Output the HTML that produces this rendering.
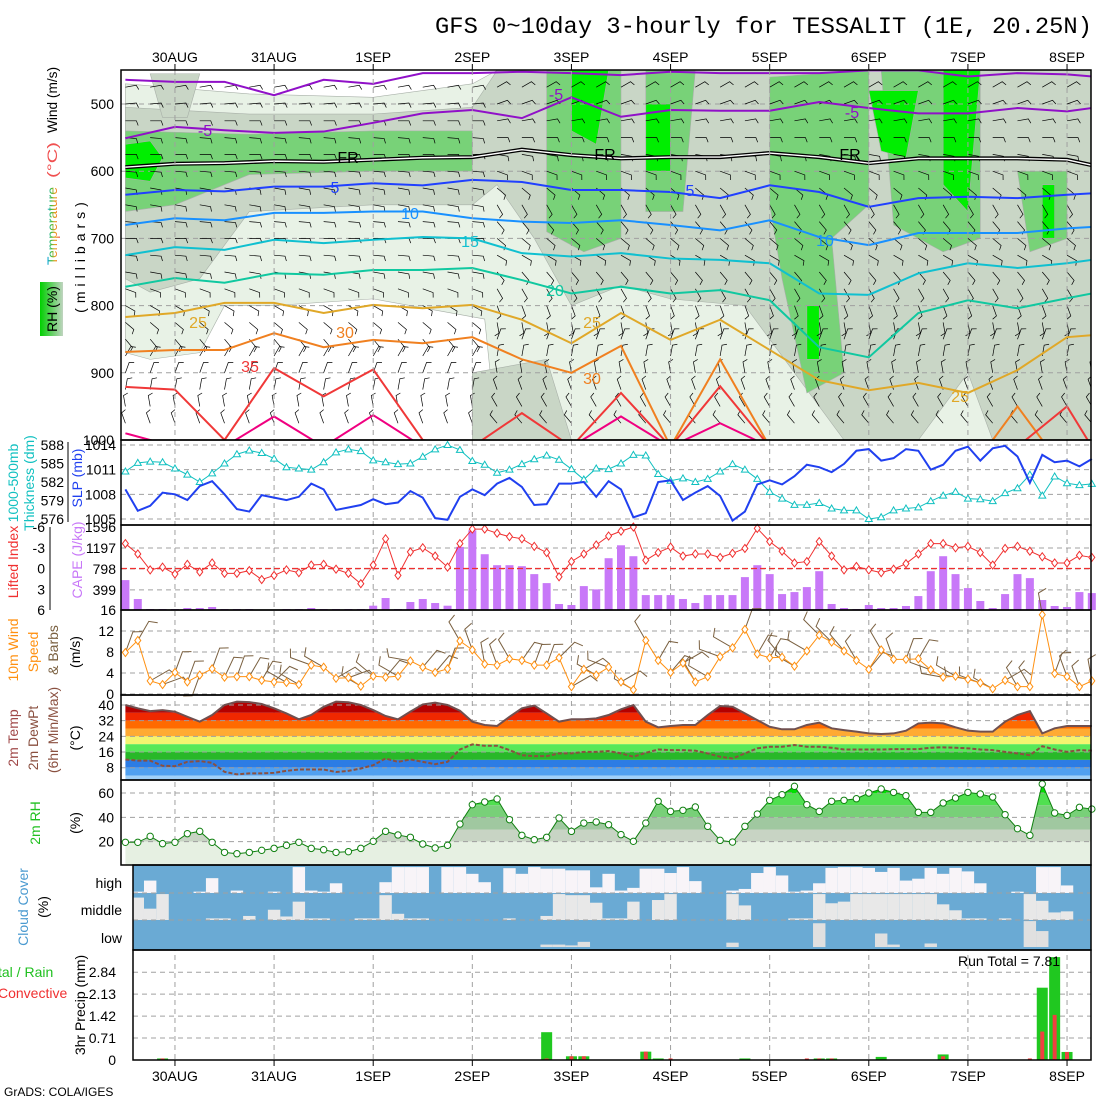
<!DOCTYPE html>
<html><head><meta charset="utf-8"><style>
html,body{margin:0;padding:0;background:#fff}
svg{display:block;font-family:"Liberation Sans",sans-serif}
</style></head><body>
<svg id="chart" width="1100" height="1100" viewBox="0 0 1100 1100" xmlns="http://www.w3.org/2000/svg">
<defs>
<linearGradient id="tempGrad" x1="0" y1="1" x2="0" y2="0">
<stop offset="0" stop-color="#f04040"/><stop offset="0.3" stop-color="#f0a020"/><stop offset="0.55" stop-color="#40c040"/><stop offset="0.8" stop-color="#00a0f0"/><stop offset="1" stop-color="#2040f0"/></linearGradient>
<linearGradient id="rhGrad" x1="0" y1="0" x2="1" y2="0">
<stop offset="0" stop-color="#00d000"/><stop offset="0.5" stop-color="#60d060"/><stop offset="1" stop-color="#c0d4c0"/></linearGradient>
</defs>
</svg>
<script>
// ---------- data ----------
const dayLabels = ["30AUG","31AUG","1SEP","2SEP","3SEP","4SEP","5SEP","6SEP","7SEP","8SEP"];
const pressureTicks = [500,600,700,800,900,1000];
const thickTicks = [588,585,582,579,576];
const slpTicks = [1014,1011,1008,1005];
const liTicks = [-6,-3,0,3,6];
const capeTicks = [1596,1197,798,399,16];
const windTicks = [16,12,8,4,0];
const tempTicks = [40,32,24,16,8];
const rhTicks = [60,40,20];
const precipTicks = [2.84,2.13,1.42,0.71,0];

const thickness = [583.7,585.1,585.3,585.2,584.2,583.2,582.0,583.4,585.0,586.5,587.1,586.7,585.8,584.4,584.2,584.0,585.2,586.8,587.3,587.0,585.5,585.2,584.9,585.0,586.1,587.3,588.0,587.2,585.4,584.8,583.5,584.0,584.9,585.7,586.3,585.6,584.1,582.4,584.2,584.1,585.0,586.4,586.3,583.3,582.2,582.6,582.0,582.5,583.7,584.9,584.0,582.5,580.4,579.3,578.3,578.3,578.6,577.7,577.4,577.4,576.0,576.3,577.4,577.7,577.9,578.9,579.8,580.4,579.3,579.2,578.9,580.2,581.0,583.2,579.8,582.9,581.8,581.5,581.7];
const slp = [1008.6,1006.0,1006.6,1008.2,1008.0,1007.3,1009.0,1009.6,1008.0,1006.2,1005.9,1007.9,1007.6,1007.3,1007.7,1009.3,1008.6,1006.1,1006.4,1006.7,1007.4,1006.8,1007.0,1008.4,1007.6,1005.1,1004.9,1007.7,1008.6,1007.9,1009.3,1010.0,1008.9,1006.7,1006.8,1009.3,1009.3,1009.5,1007.7,1009.6,1008.6,1005.2,1005.7,1009.5,1009.7,1007.3,1008.2,1009.0,1007.8,1004.8,1005.9,1009.2,1009.7,1009.2,1010.2,1011.6,1011.3,1010.7,1011.7,1013.3,1013.5,1012.1,1012.4,1013.5,1013.3,1011.0,1011.6,1013.3,1013.8,1012.1,1013.6,1013.9,1012.6,1009.4,1012.8,1011.9,1012.1,1011.4,1012.3];
const cape = [585,225,35,35,35,54,54,73,35,35,35,16,16,35,35,54,35,35,35,35,98,244,35,168,225,149,98,1217,1533,1078,869,869,850,699,528,130,111,471,408,1002,1248,1040,300,300,300,225,149,300,300,300,642,869,699,319,357,452,755,130,54,35,111,54,54,92,281,755,1040,699,433,187,54,319,699,623,206,92,73,357,338];
const liftedIndex = [-3.6,-2.1,0.2,-0.2,0.8,-0.6,0.5,-0.8,0.7,0.7,0.3,1.6,1.0,0.2,0.6,-0.5,-0.6,0.1,0.7,2.2,-0.5,-4.3,1.0,-2.4,-3.0,-1.8,-0.2,-3.6,-5.7,-5.7,-5.1,-4.6,-4.3,-3.2,-2.3,1.2,-1.0,-2.1,-3.4,-4.7,-5.4,-6.0,-1.2,-2.3,-3.1,-1.8,-2.1,-2.1,-1.6,-2.2,-2.9,-5.8,-3.9,-2.5,-0.8,-1.0,-3.9,-1.8,0.2,-0.3,0.2,0.6,0.1,-0.7,-2.1,-3.6,-3.6,-3.0,-3.2,-2.3,-0.5,-2.9,-3.2,-2.5,-1.7,-0.8,-0.8,-1.9,-1.6];
const windSpeed = [7.9,10.2,2.5,1.8,4.1,2.3,3.6,4.8,3.2,3.3,3.3,2.6,2.3,2.2,1.8,5.5,5.1,3.0,3.1,1.5,3.4,3.2,3.4,6.3,5.1,4.1,4.8,10.1,8.4,5.7,5.5,6.7,6.4,5.5,5.5,6.9,1.4,4.7,3.6,5.1,2.3,0.8,10.2,6.4,4.1,5.9,2.3,3.3,7.1,8.8,12.3,7.6,6.9,7.0,5.3,8.2,11.2,9.9,8.2,6.4,4.7,8.4,6.6,6.6,6.7,4.6,3.2,3.4,2.8,2.1,1.0,2.6,1.4,1.4,15.1,3.9,3.3,1.4,2.5];
const windDir = [20,30,60,70,20,20,200,20,25,20,30,30,45,300,300,290,300,60,70,300,310,40,300,280,40,40,20,330,340,350,340,330,35,20,20,45,60,60,300,290,60,300,330,30,40,60,330,300,290,300,20,30,30,320,300,300,315,315,320,330,40,330,340,20,30,290,280,300,280,290,300,60,330,330,350,20,340,340,350];
const temp2m = [40.0,38.3,36.9,37.4,36.6,34.0,31.5,34.9,40.0,41.7,41.5,40.5,38.3,35.7,32.7,34.9,39.1,41.7,41.4,40.0,37.4,34.4,32.7,36.6,40.3,41.2,40.0,37.1,31.5,29.8,29.3,34.0,38.3,39.7,35.7,31.5,32.7,32.7,33.2,34.9,37.8,40.0,31.5,28.6,29.3,29.8,29.8,34.9,39.5,39.1,35.7,32.3,28.9,27.6,27.6,29.8,31.0,28.1,27.2,26.4,25.5,25.2,25.5,26.9,30.6,31.0,30.6,28.6,26.9,26.4,26.4,31.5,34.9,36.9,25.5,28.1,29.3,29.3,29.3];
const dewpt2m = [12.2,11.6,11.6,9.0,8.8,11.0,11.4,10.5,5.9,4.6,5.1,5.1,5.4,6.4,7.1,7.1,7.1,5.8,6.4,7.6,9.3,12.7,11.0,12.2,11.0,9.8,11.0,17.3,19.9,19.2,19.2,17.0,14.4,13.9,13.9,15.3,15.3,16.1,16.1,16.5,15.3,13.6,15.6,17.3,17.0,17.0,16.7,15.3,13.6,12.7,15.3,17.9,18.7,18.7,19.6,18.7,18.7,18.2,17.3,17.3,17.3,17.3,17.5,17.5,17.5,18.2,18.4,18.2,17.9,17.3,17.0,16.1,15.3,14.4,19.0,17.3,16.1,17.0,16.7];
const rh2m = [19.5,19.5,24.4,18.4,19.5,26.6,28.5,19.5,11.2,10.1,11.2,12.9,14.5,17.0,19.5,14.5,13.4,11.2,11.8,14.5,20.3,28.5,25.5,23.6,18.1,14.8,17.0,34.5,50.4,52.6,55.1,38.1,25.2,21.6,23.6,39.5,28.5,35.3,36.2,34.0,25.8,20.3,35.3,53.2,44.9,45.8,48.5,32.6,21.1,19.7,32.6,42.7,54.0,58.6,65.5,50.4,44.9,53.2,54.0,55.3,60.0,63.3,60.5,57.8,44.1,44.1,51.8,55.9,60.5,59.2,56.7,42.2,30.7,25.2,67.4,43.6,41.6,48.2,46.8];
const cloudHigh = [0,5,46,0,0,0,5,55,0,9,0,0,5,0,96,9,5,36,0,0,0,40,96,96,96,0,96,96,71,40,0,92,71,96,90,90,84,84,21,71,9,19,90,90,74,96,44,0,0,9,15,74,96,65,5,9,36,93,96,96,93,78,93,46,53,93,71,93,80,36,0,0,5,0,96,96,28,0,0];
const cloudMid = [0,83,42,96,0,0,0,6,6,0,15,0,38,13,68,6,6,0,0,6,6,92,23,6,6,0,0,0,0,0,0,6,0,0,15,96,92,92,64,6,6,68,0,74,96,0,0,0,0,96,54,0,0,0,6,6,96,62,68,96,96,96,96,96,96,96,58,36,6,6,0,6,0,96,71,28,32,0,0];
const cloudLow = [0,0,0,0,0,0,0,0,0,0,0,0,0,0,0,0,0,0,0,0,0,0,0,0,0,0,0,0,0,0,0,0,0,0,9,9,6,19,0,0,0,0,0,0,0,0,0,0,0,16,0,0,0,0,0,0,88,0,0,0,0,50,9,0,0,13,0,0,0,0,0,0,0,96,59,0,0,0,0];
const precipSteps = [3,34,36,37,42,43,44,50,55,56,57,61,66,73,74,75,76];
const precipTotal = [0.05,0.90,0.12,0.12,0.27,0.05,0,0.05,0,0.05,0.05,0.10,0.18,0,2.34,3.33,0.26];
const precipConv = [0.05,0.05,0.12,0.12,0.27,0,0.05,0,0.05,0.05,0.05,0,0.12,0.05,0.92,1.46,0.26];
const runTotal = "7.81";

// upper-air isotherms: pressure (mb) at every 4th step
const isoSteps = [0,4,8,12,16,20,24,28,32,36,40,44,48,52,56,60,64,68,72,76,78];
const isoM10 = [464,467,467,487,464,470,454,454,452,454,457,452,454,454,454,450,450,459,454,456,459];
const isoM5 = [551,534,539,543,541,528,514,509,521,490,519,509,510,510,497,506,514,514,506,511,506];
const isoFR = [594,589,588,585,586,583,580,579,568,576,581,579,579,573,579,588,581,581,581,583,591];
const iso5 = [635,628,630,623,623,618,621,613,616,628,628,631,640,621,631,653,640,638,640,635,633];
const iso10 = [680,670,673,662,662,660,660,670,675,677,673,680,688,673,698,710,692,692,692,685,683];
const iso15 = [725,713,717,702,707,702,698,700,722,727,722,730,732,737,782,784,752,737,744,737,732];
const iso20 = [772,759,766,752,754,747,747,744,762,782,772,782,777,792,862,877,811,792,804,789,782];
const iso25 = [817,811,796,796,811,799,804,799,821,856,811,851,821,866,911,926,915,930,896,847,844];
const iso30 = [869,866,866,841,862,851,856,847,880,900,860,1010,880,1010,1020,1020,1020,1050,950,1050,1040];
const iso35 = [921,925,1000,893,935,895,1000,1010,960,1010,930,1010,920,1010,1010,1010,1010,1010,1010,950,1010];
const iso40 = [990,1010,1010,965,1010,963,1010,1010,1010,1010,965,1010,975,1010,1010,1010,1010,1010,1010,1010,1010];

// RH shading regions as [step, pressure] outlines
const rhLight = [[[0,470],[10,485],[20,490],[28,470],[30,450],[78,450],[78,1000],[30,1000],[29,820],[20,790],[12,800],[8,800],[6,870],[2,880],[0,870]]];
const rhGrey = [[[0,505],[10,515],[20,515],[28,505],[30,450],[78,450],[78,1000],[70,1000],[68,900],[64,1000],[58,1000],[54,900],[50,800],[44,790],[40,770],[36,800],[33,700],[30,620],[28,650],[20,650],[10,660],[6,760],[2,780],[0,760]],[[2,455],[6,455],[5,520],[3,520]],[[28,900],[34,880],[36,1000],[28,1000]]];
const rhGreen = [[[0,540],[10,545],[20,540],[28,540],[28,600],[20,600],[10,605],[4,650],[0,660]],[[34,450],[40,450],[40,700],[37,720],[34,690]],[[42,450],[46,450],[45,660],[42,660]],[[52,460],[60,450],[60,650],[57,700],[58,900],[55,930],[53,760],[52,650]],[[61,450],[69,450],[69,700],[66,720],[62,680]],[[72,600],[76,600],[76,700],[73,720]]];
const rhBright = [[[0,560],[2,555],[3,580],[2,615],[0,610]],[[36,450],[39,450],[38,560],[36,540]],[[42,500],[44,500],[44,600],[42,600]],[[60,480],[64,480],[63,580],[61,570]],[[66,450],[69,450],[68,660],[66,620]],[[74,620],[75,620],[75,700],[74,700]],[[55,800],[56,800],[56,880],[55,880]]];

// upper-air barbs: direction (deg) per level, every 2nd step
const barbLevels = [475,500,525,550,575,600,625,650,675,700,725,750,775,800,825,850,875,900,925,950,975];
const barbDirLeft = [80,85,90,95,90,95,100,100,95,90,95,100,110,120,130,140,30,20,10,350,340];
const barbDirRight = [60,70,80,90,100,110,130,150,140,130,120,140,150,160,170,20,10,350,340,330,320];

// ---------- helpers ----------
const svg = document.getElementById('chart');
const NS = 'http://www.w3.org/2000/svg';
function mk(tag, attrs, parent){const e=document.createElementNS(NS,tag);for(const k in attrs)e.setAttribute(k,attrs[k]);(parent||svg).appendChild(e);return e;}
const X = i => 125.4 + 12.39*i;
const Pp = p => 104 + (p-500)*0.672;
const Yth = v => 445 + (588-v)*6.17;
const Ysl = v => 445 + (1014-v)*8.22;
const Ycape = v => 527 + (1596-v)/1580*83;
const Yli = v => 527 + (v+6)/12*83;
const Yw = v => 694 - v*5.25;
const Yt = v => 705 + (40-v)*1.96;
const Yr = v => 793 + (60-v)*1.217;
const Yp = v => 1060 - v*30.9;
const L=121, R=1091;
const dayX = dayLabels.map((d,k)=>X(4+8*k));

function text(str,x,y,opt,name){
  const t=mk('text',Object.assign({x:x,y:y,'font-size':14,fill:'#000'},opt||{}));
  t.textContent=str;
  
  
  return t;
}
function vtext(str,x,y,opt,name){
  const t=mk('text',Object.assign({x:0,y:0,'font-size':14,fill:'#000','text-anchor':'middle',transform:`translate(${x},${y}) rotate(-90)`},opt||{}));
  t.textContent=str;
  
  
  return t;
}
function clip(id,x,y,w,h){const c=mk('clipPath',{id:id});mk('rect',{x:x,y:y,width:w,height:h},c);return 'url(#'+id+')';}
function pts(arr){return arr.map(p=>p.join(',')).join(' ');}

// ---------- title ----------
text('GFS 0~10day 3-hourly for TESSALIT (1E, 20.25N)',435,33,{'font-family':'"Liberation Mono",monospace','font-size':23,textLength:657,lengthAdjust:'spacingAndGlyphs'},'chart-title');

// ---------- upper air panel ----------
const gUp=mk('g',{'clip-path':clip('cUp',L,70,R-L,370)});


function rhLayer(list,color,name){
  list.forEach(poly=>{
    const e=mk('polygon',{points:pts(poly.map(q=>[X(q[0]),Pp(q[1])])),fill:color,stroke:'#a8b0a8','stroke-width':0.6},gUp);
    
    
  });
}
rhLayer(rhLight,'#e8f2e6','rh-shade-light');
rhLayer(rhGrey,'#c9d6c6','rh-shade-grey');
rhLayer(rhGreen,'#78d278','rh-shade-green');
rhLayer(rhBright,'#00ee00','rh-shade-bright');
pressureTicks.forEach(p=>{const g=mk('line',{x1:L,x2:R,y1:Pp(p),y2:Pp(p),stroke:'#a0a0a0','stroke-dasharray':'5,4'},gUp);});
for(let i=0;i<=78;i+=2){
  barbLevels.forEach((p,k)=>{
    const d=(i<30?barbDirLeft[k]:barbDirRight[k])*Math.PI/180;
    const x=X(i),y=Pp(p),Ls=11;
    const ex=x+Math.sin(d)*Ls, ey=y-Math.cos(d)*Ls;
    const fx=ex+Math.sin(d+Math.PI/2.6)*5, fy=ey-Math.cos(d+Math.PI/2.6)*5;
    const b=mk('polyline',{points:`${x},${y} ${ex},${ey} ${fx},${fy}`,fill:'none',stroke:'#000','stroke-width':0.7},gUp);
    
    
  });
}
function iso(vals,color,name,w){
  const d=vals.map((p,k)=>[X(isoSteps[k]),Pp(p)]);
  if(name==='isotherm-freezing'){
    const a=mk('polyline',{points:pts(d),fill:'none',stroke:'#000','stroke-width':4},gUp);
    
    
    const b=mk('polyline',{points:pts(d),fill:'none',stroke:'#fff','stroke-width':1.4},gUp);
    
    
    return;
  }
  const e=mk('polyline',{points:pts(d),fill:'none',stroke:color,'stroke-width':w||2},gUp);
  
  
}
iso(isoM10,'#9010c8','isotherm-minus10');
iso(isoM5,'#9010c8','isotherm-minus5');
iso(isoFR,'#000','isotherm-freezing');
iso(iso5,'#2040ff','isotherm-5');
iso(iso10,'#1890ff','isotherm-10');
iso(iso15,'#10c0d0','isotherm-15');
iso(iso20,'#10c8a0','isotherm-20');
iso(iso25,'#e0a828','isotherm-25');
iso(iso30,'#f08020','isotherm-30');
iso(iso35,'#f03838','isotherm-35');
iso(iso40,'#f00080','isotherm-40');
[['-5',205,136,'#9010c8'],['-5',556,100,'#9010c8'],['-5',852,118,'#9010c8'],['FR',348,163,'#000'],['FR',605,160,'#000'],['FR',850,160,'#000'],['5',335,193,'#2040ff'],['5',690,196,'#2040ff'],['10',410,219,'#1890ff'],['10',825,246,'#1890ff'],['15',470,247,'#10c0d0'],['20',555,296,'#10c8a0'],['25',198,328,'#e0a828'],['25',592,328,'#e0a828'],['25',960,402,'#e0a828'],['30',345,338,'#f08020'],['30',592,384,'#f08020'],['35',250,372,'#f03838']].forEach(a=>{
  text(a[0],a[1],a[2],{fill:a[3],'font-size':16,'text-anchor':'middle'},'isotherm-label');
});
pressureTicks.forEach(p=>text(String(p),114,Pp(p)+5,{'text-anchor':'end'},'pressure-tick'));
vtext('Wind (m/s)',57,100,{textLength:66,lengthAdjust:'spacingAndGlyphs'},'wind-axis-title');
vtext('(°C)',57,160,{fill:'#f05050',textLength:36,lengthAdjust:'spacingAndGlyphs'},'temp-unit-title');
vtext('Temperature',57,226,{fill:'url(#tempGrad)',textLength:78,lengthAdjust:'spacingAndGlyphs'},'temperature-axis-title');
const rhBox=mk('rect',{x:40,y:282,width:23,height:54,fill:'url(#rhGrad)'});


vtext('RH (%)',57,309,{},'rh-axis-title');
vtext('(millibars)',85,255,{'letter-spacing':'5'},'pressure-axis-title');

// ---------- vertical day gridlines ----------
dayX.forEach(x=>{
  [[70,440],[440,865],[865,1060]].forEach(s=>{
    const g=mk('line',{x1:x,x2:x,y1:s[0],y2:s[1],stroke:'#a0a0a0','stroke-dasharray':'5,4'});
    
    
  });
});
dayLabels.forEach((d,k)=>{text(d,dayX[k],62,{'text-anchor':'middle'},'top-date-label');text(d,dayX[k],1081,{'text-anchor':'middle'},'bottom-date-label');});

// ---------- thickness / SLP ----------
function hgrid(y,x0){const g=mk('line',{x1:x0||L,x2:R,y1:y,y2:y,stroke:'#a0a0a0','stroke-dasharray':'5,4'});}
slpTicks.forEach(v=>hgrid(Ysl(v)));
thickTicks.forEach(v=>text(String(v),64,Yth(v)+5,{'text-anchor':'end'},'thickness-tick'));
slpTicks.forEach(v=>text(String(v),116,Ysl(v)+5,{'text-anchor':'end'},'slp-tick'));
const thAx=mk('line',{x1:68,x2:68,y1:442,y2:522,stroke:'#000'});


const thLine=mk('polyline',{points:thickness.map((v,i)=>X(i)+','+Yth(v)).join(' '),fill:'none',stroke:'#10c0c0','stroke-width':1});


thickness.forEach((v,i)=>{const m=mk('polygon',{points:`${X(i)},${Yth(v)-3.5} ${X(i)-3.5},${Yth(v)+2.5} ${X(i)+3.5},${Yth(v)+2.5}`,fill:'#fff',stroke:'#10c0c0'});});
const slpLine=mk('polyline',{points:slp.map((v,i)=>X(i)+','+Ysl(v)).join(' '),fill:'none',stroke:'#2040f0','stroke-width':2});


vtext('1000-500mb',18,483,{fill:'#10c0c0'},'thickness-axis-title');
vtext('Thickness (dm)',34,483,{fill:'#10c0c0'},'thickness-unit-title');
vtext('SLP (mb)',82,478,{fill:'#2040f0'},'slp-axis-title');

// ---------- CAPE / LI ----------
capeTicks.forEach(v=>{if(v!==1596&&v!==16)hgrid(Ycape(v));});
cape.forEach((v,i)=>{const b=mk('rect',{x:X(i)-4,y:Ycape(v),width:8,height:610-Ycape(v),fill:'#c878f8'});});
const zl=mk('line',{x1:L,x2:R,y1:Yli(0),y2:Yli(0),stroke:'#f03030','stroke-dasharray':'6,3','stroke-width':1.2});


const liLine=mk('polyline',{points:liftedIndex.map((v,i)=>X(i)+','+Yli(v)).join(' '),fill:'none',stroke:'#f03030','stroke-width':1});


liftedIndex.forEach((v,i)=>{const y=Yli(v),x=X(i);const m=mk('polygon',{points:`${x},${y-4} ${x+3},${y} ${x},${y+4} ${x-3},${y}`,fill:'#fff',stroke:'#f03030'});});
liTicks.forEach(v=>text(String(v),45,Yli(v)+5,{'text-anchor':'end'},'li-tick'));
capeTicks.forEach(v=>text(String(v),116,Ycape(v)+5,{'text-anchor':'end'},'cape-tick'));
const liAx=mk('line',{x1:50,x2:50,y1:527,y2:610,stroke:'#000'});


vtext('Lifted Index',18,562,{fill:'#f03030'},'lifted-index-title');
vtext('CAPE (J/kg)',82,560,{fill:'#c878f8'},'cape-axis-title');

// ---------- 10m wind ----------
windTicks.forEach(v=>{if(v!==16)hgrid(Yw(v));});
windDir.forEach((d0,i)=>{
  const d=d0*Math.PI/180,x=X(i),y=Yw(windSpeed[i]),Ls=22;
  const ex=x+Math.sin(d)*Ls, ey=y-Math.cos(d)*Ls;
  const fx=ex+Math.sin(d+1.2)*9, fy=ey-Math.cos(d+1.2)*9;
  const b=mk('polyline',{points:`${x},${y} ${ex},${ey} ${fx},${fy}`,fill:'none',stroke:'#7a6040','stroke-width':1});
  
  
});
const wl=mk('polyline',{points:windSpeed.map((v,i)=>X(i)+','+Yw(v)).join(' '),fill:'none',stroke:'#ff9010','stroke-width':1});


windSpeed.forEach((v,i)=>{const y=Yw(v),x=X(i);const m=mk('polygon',{points:`${x},${y-4} ${x+3},${y} ${x},${y+4} ${x-3},${y}`,fill:'#fff',stroke:'#ff9010'});});
windTicks.forEach(v=>{if(v!==16)text(String(v),114,Yw(v)+5,{'text-anchor':'end'},'wind-tick');});
vtext('10m Wind',18,650,{fill:'#ff9010'},'wind-title');
vtext('Speed',38,652,{fill:'#ff9010'},'wind-speed-title');
vtext('& Barbs',58,650,{fill:'#7a6040'},'wind-barbs-title');
vtext('(m/s)',80,652,{},'wind-unit-title');

// ---------- 2m temp ----------
const tempBands=[[45,36,'#b40000'],[36,32,'#f02800'],[32,28,'#ff6a00'],[28,24,'#ffaa33'],[24,20,'#f4f470'],[20,16,'#58e858'],[16,12,'#28b828'],[12,8,'#2c7ce4'],[8,4,'#50a0f0'],[4,0,'#a0d0f8']];
const cT=mk('clipPath',{id:'cTemp'});
mk('polygon',{points:`${X(0)},780 `+temp2m.map((v,i)=>X(i)+','+Yt(v)).join(' ')+` ${X(78)},780`},cT);
const gT=mk('g',{'clip-path':'url(#cTemp)'});


tempBands.forEach(b=>{const r=mk('rect',{x:L,y:Math.max(697,Yt(b[0])),width:R-L,height:Math.min(780,Yt(b[1]))-Math.max(697,Yt(b[0])),fill:b[2]},gT);});
tempTicks.forEach(v=>hgrid(Yt(v)));
const tl=mk('polyline',{points:temp2m.map((v,i)=>X(i)+','+Yt(v)).join(' '),fill:'none',stroke:'#705050','stroke-width':2});


const dl=mk('polyline',{points:dewpt2m.map((v,i)=>X(i)+','+Yt(v)).join(' '),fill:'none',stroke:'#8a5040','stroke-width':2,'stroke-dasharray':'4,2'});


tempTicks.forEach(v=>text(String(v),114,Yt(v)+5,{'text-anchor':'end'},'temp-tick'));
vtext('2m Temp',18,738,{fill:'#a04848'},'temp-title');
vtext('2m DewPt',38,738,{fill:'#8a5040'},'dewpoint-title');
vtext('(6hr Min/Max)',58,730,{fill:'#8a5040'},'minmax-title');
vtext('(°C)',80,738,{},'temp-unit-title');

// ---------- 2m RH ----------
const rhBands=[[100,60,'#00e000'],[60,50,'#50e050'],[50,40,'#78d078'],[40,30,'#a0c8a0'],[30,20,'#c8d4c4'],[20,0,'#e6f0e2']];
const cR=mk('clipPath',{id:'cRh'});
mk('polygon',{points:`${X(0)},865 `+rh2m.map((v,i)=>X(i)+','+Yr(v)).join(' ')+` ${X(78)},865`},cR);
const gR=mk('g',{'clip-path':'url(#cRh)'});


rhBands.forEach(b=>{const y0=Math.max(781,Yr(b[0])),y1=Math.min(865,Yr(b[1]));const r=mk('rect',{x:L,y:y0,width:R-L,height:y1-y0,fill:b[2]},gR);});
rhTicks.forEach(v=>hgrid(Yr(v)));
const rl=mk('polyline',{points:rh2m.map((v,i)=>X(i)+','+Yr(v)).join(' '),fill:'none',stroke:'#108010','stroke-width':1});


rh2m.forEach((v,i)=>{const c=mk('circle',{cx:X(i),cy:Yr(v),r:3.2,fill:'#fff',stroke:'#108010'});});
rhTicks.forEach(v=>text(String(v),114,Yr(v)+5,{'text-anchor':'end'},'rh-tick'));
vtext('2m RH',40,823,{fill:'#20c020'},'rh2m-title');
vtext('(%)',80,823,{},'rh2m-unit-title');

// ---------- cloud cover ----------
const CL=133;
const cbg=mk('rect',{x:CL,y:865,width:R-CL,height:85,fill:'#6aaad4'});


const gC=mk('g',{'clip-path':clip('cCl',CL,865,R-CL,85)});


[[cloudHigh,893,'#f8f4f8','cloud-high-bar'],[cloudMid,920,'#e8e8e8','cloud-mid-bar'],[cloudLow,947,'#e0e0e0','cloud-low-bar']].forEach(row=>{
  row[0].forEach((v,i)=>{if(v<=0)return;const h=v/100*27;const r=mk('rect',{x:X(i)-6.2,y:row[1]-h,width:12.4,height:h,fill:row[2]},gC);});
});
[893,920].forEach(y=>hgrid(y,CL));
text('high',122,888,{'text-anchor':'end'},'cloud-high-label');
text('middle',122,915,{'text-anchor':'end'},'cloud-middle-label');
text('low',122,943,{'text-anchor':'end'},'cloud-low-label');
vtext('Cloud Cover',28,907,{fill:'#4a9ad0'},'cloud-title');
vtext('(%)',48,907,{},'cloud-unit-title');

// ---------- precip ----------
precipTicks.forEach(v=>{if(v>0)hgrid(Yp(v),CL);});
precipSteps.forEach((s,k)=>{
  if(precipTotal[k]>0){const b=mk('rect',{x:X(s)-5.5,y:Yp(precipTotal[k]),width:11,height:1060-Yp(precipTotal[k]),fill:'#20c820'});}
  if(precipConv[k]>0){const b=mk('rect',{x:X(s)-2,y:Yp(precipConv[k]),width:4,height:1060-Yp(precipConv[k]),fill:'#f04040'});}
});
precipTicks.forEach(v=>text(String(v),116,Yp(v)+5,{'text-anchor':'end'},'precip-tick'));
text('Run Total = '+runTotal,958,966,{},'run-total-label');
text('tal / Rain',-2,977,{fill:'#20c020'},'precip-total-legend');
text('Convective',-2,998,{fill:'#f03030'},'precip-convective-legend');
vtext('3hr Precip (mm)',85,1005,{},'precip-axis-title');
text('GrADS: COLA/IGES',4,1096,{'font-size':12},'credit-label');

// ---------- frames ----------
[[L,70,R-L,370],[L,440,R-L,85],[L,525,R-L,85],[L,610,R-L,85],[L,695,R-L,85],[L,780,R-L,85],[CL,865,R-CL,85],[CL,950,R-CL,110]].forEach(f=>{
  const r=mk('rect',{x:f[0],y:f[1],width:f[2],height:f[3],fill:'none',stroke:'#000','stroke-width':1.5});
  
  
});
dayX.forEach(x=>{[[70,64],[1060,1066]].forEach(s=>{const t=mk('line',{x1:x,x2:x,y1:s[0],y2:s[1],stroke:'#000'});});});
</script>
</body></html>
